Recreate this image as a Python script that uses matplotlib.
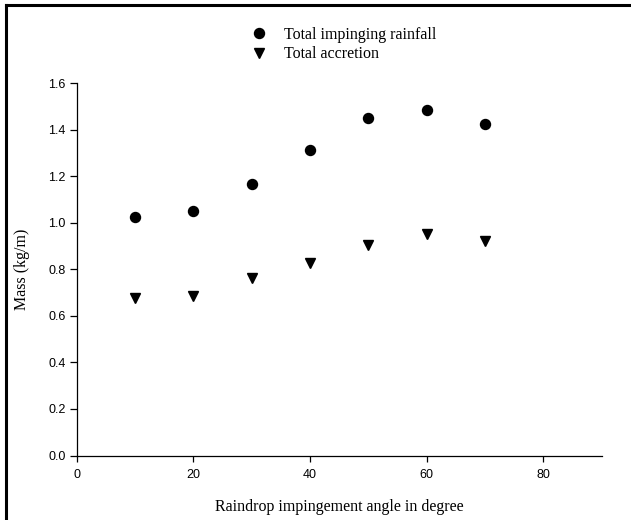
import numpy as np
import matplotlib.pyplot as plt
from matplotlib.lines import Line2D

# 数据
angle = np.array([10, 20, 30, 40, 50, 60, 70])
rainfall = np.array([1.027, 1.049, 1.166, 1.315, 1.449, 1.483, 1.423])
accretion = np.array([0.676, 0.687, 0.762, 0.829, 0.905, 0.951, 0.920])

serif = ['Liberation Serif', 'DejaVu Serif']
plt.rcParams['font.family'] = ['Liberation Sans', 'DejaVu Sans']

fig = plt.figure(figsize=(6.31, 5.20), dpi=100)
ax = fig.add_axes([0.1216, 0.124, 0.832, 0.716])

ax.plot(angle, rainfall, 'o', color='black', markersize=7.2, label='Total impinging rainfall')
ax.plot(angle, accretion, 'v', color='black', markersize=6.5, label='Total accretion')

ax.set_xlim(0, 90)
ax.set_ylim(0, 1.6)
ax.set_xticks([0, 20, 40, 60, 80])
ax.set_yticks(np.arange(0, 1.61, 0.2))
ax.set_yticklabels([f'{v:.1f}' for v in np.arange(0, 1.61, 0.2)])

ax.spines['top'].set_visible(False)
ax.spines['right'].set_visible(False)
for s in ['left', 'bottom']:
    ax.spines[s].set_linewidth(0.9)
ax.tick_params(axis='both', direction='out', labelsize=9, width=0.9)
ax.tick_params(axis='y', length=5, pad=3)
ax.tick_params(axis='x', length=4, pad=6)

ax.set_xlabel('Raindrop impingement angle in degree', family=serif, fontsize=11.5, labelpad=13)
ax.set_ylabel('Mass (kg/m)', family=serif, fontsize=11.5, labelpad=13)

leg = ax.legend(loc='upper left', bbox_to_anchor=(242.7 / 631, 1 - 19 / 520),
                bbox_transform=fig.transFigure, frameon=False, borderpad=0,
                handlelength=1.0, handletextpad=1.1, labelspacing=0.2,
                prop={'family': serif, 'size': 11.5})

# 外框
fig.add_artist(Line2D([6 / 631, 1], [1 - 5 / 520, 1 - 5 / 520], color='black', lw=2.2,
                      transform=fig.transFigure))
fig.add_artist(Line2D([6 / 631, 6 / 631], [0, 1 - 5 / 520], color='black', lw=2.2,
                      transform=fig.transFigure))

fig.savefig('out.png', dpi=100)
